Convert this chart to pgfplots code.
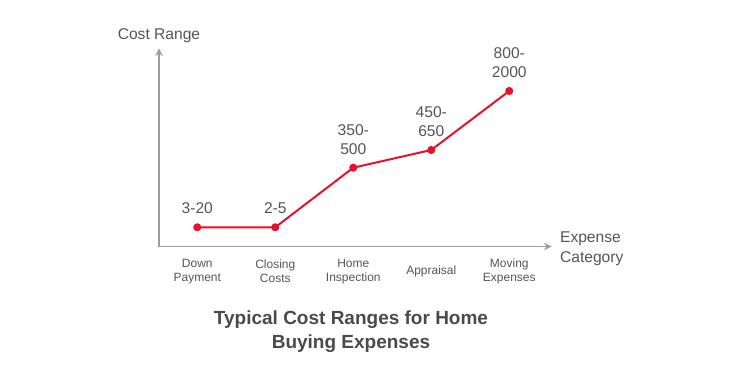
\documentclass[border=0pt]{standalone}
\usepackage{pgfplots}
\pgfplotsset{compat=1.18}
\usepackage{fontspec}
\setmainfont{Liberation Sans}
\definecolor{axisgray}{HTML}{9C9C9C}
\definecolor{txtgray}{HTML}{555555}
\definecolor{titlegray}{HTML}{4A4A4A}
\definecolor{linered}{HTML}{E8112D}
\begin{document}
\begin{tikzpicture}
\path[use as bounding box] (-79.5pt,-64.25pt) rectangle (295.5pt,123.25pt);
\begin{axis}[
  scale only axis,
  width=196.35pt, height=99.1pt,
  xmin=-0.491, xmax=4.544,
  ymin=0, ymax=198.2,
  axis lines=left,
  axis line style={axisgray, line width=0.75pt},
  ytick=\empty,
  xtick={0,1,2,3,4},
  xticklabels={{Down\\Payment},{Closing\\Costs},{Home\\Inspection},{Appraisal},{Moving\\Expenses}},
  major tick length=0pt,
  xticklabel style={align=center, font=\fontsize{6}{7}\selectfont, text=txtgray, inner sep=0pt, anchor=center, yshift=-12.6pt},
  clip=false,
]
\addplot[linered, line width=1pt, mark=*, mark size=1.5pt, mark options={fill=linered, draw=linered}]
  coordinates {(0,19.2) (1,19.2) (2,78.8) (3,96.5) (4,155.5)};
\begin{scope}[every node/.style={font=\fontsize{7.8}{9.3}\selectfont, text=txtgray, align=center, anchor=south, inner sep=0pt, yshift=6.5pt}]
\node at (axis cs:0,19.2) {3-20};
\node at (axis cs:1,19.2) {2-5};
\node at (axis cs:2,78.8) {350-\\500};
\node at (axis cs:3,96.5) {450-\\650};
\node at (axis cs:4,155.5) {800-\\2000};
\end{scope}
\node[font=\fontsize{7.8}{10}\selectfont, text=txtgray, align=left, anchor=west, inner sep=0pt] at ([xshift=4pt,yshift=-1pt]rel axis cs:1,0) {Expense\\Category};
\node[font=\fontsize{7.8}{9.3}\selectfont, text=txtgray, anchor=south, inner sep=0pt] at ([yshift=2.7pt]rel axis cs:0,1) {Cost Range};
\end{axis}
\node[font=\bfseries\fontsize{9.5}{12}\selectfont, text=titlegray, align=center] at (96pt,-42.5pt) {Typical Cost Ranges for Home\\Buying Expenses};
\end{tikzpicture}
\end{document}
